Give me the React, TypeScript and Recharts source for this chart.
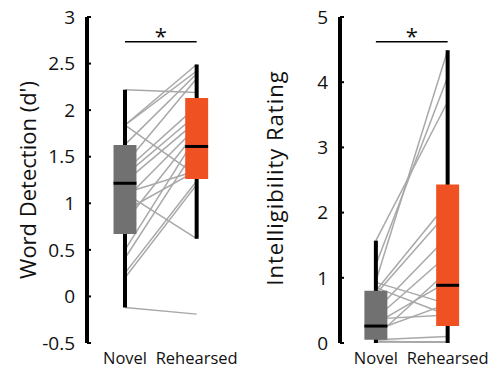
import React from 'react';
import {
  ComposedChart,
  Line,
  XAxis,
  YAxis,
  ReferenceArea,
  ReferenceLine
} from 'recharts';

const categories = ['Novel', 'Rehearsed'];

// box stats: [min, q1, median, q3, max]
const detectionNovelBox = [-0.12, 0.67, 1.215, 1.625, 2.22];
const detectionRehearsedBox = [0.62, 1.26, 1.61, 2.13, 2.49];
const ratingNovelBox = [0, 0.05, 0.26, 0.8, 1.57];
const ratingRehearsedBox = [0, 0.26, 0.885, 2.43, 4.49];

// paired subjects
const detectionNovel = [2.22, 1.84, 1.84, 1.84, 1.63, 1.42, 1.35, 1.3, 1.23, 1.11, 1.11, 1.04, 0.92, 0.8, 0.5, 0.41, 0.25, 0.2, -0.12];
const detectionRehearsed = [2.19, 2.49, 2.42, 1.3, 2.39, 2.34, 2.04, 1.95, 1.88, 1.35, 0.62, 1.82, 1.35, 1.77, 1.72, 1.6, 1.24, 1.2, -0.19];
const ratingNovel = [1.57, 1.2, 0.95, 0.93, 0.85, 0.8, 0.75, 0.5, 0.38, 0.3, 0.37, 0.2, 0.1, 0.05, 0.02, 0, 0.03];
const ratingRehearsed = [3.7, 4.08, 4.49, 0.6, 0.43, 2.15, 2.0, 1.63, 1.35, 0.94, 0.43, 0.6, 1.1, 0.1, 0.02, 0, 0];

const detectionTicks = [-0.5, 0, 0.5, 1, 1.5, 2, 2.5, 3];
const ratingTicks = [0, 1, 2, 3, 4, 5];

const detectionSig = 2.735;
const ratingSig = 4.62;

const FONT = '"Open Sans", sans-serif';
const GRAY = '#717171';
const ORANGE = '#F05123';
const HALF = 0.16;

interface PanelProps {
  title: string;
  novel: number[];
  rehearsed: number[];
  novelBox: number[];
  rehearsedBox: number[];
  ticks: number[];
  sig: number;
  xDomain: [number, number];
  width: number;
  marginLeft: number;
  marginRight: number;
  labelX: number;
  labelY: number;
  labelSpacing: number;
}

function Panel({ title, novel, rehearsed, novelBox, rehearsedBox, ticks, sig, xDomain, width, marginLeft, marginRight, labelX, labelY, labelSpacing }: PanelProps) {
  const boxes = [
    { x: 1, s: novelBox, fill: GRAY },
    { x: 2, s: rehearsedBox, fill: ORANGE }
  ];
  return (
    <ComposedChart
      width={width}
      height={369}
      margin={{ top: 17, right: marginRight, bottom: 0, left: marginLeft }}
      style={{ fontFamily: FONT }}
    >
      <XAxis
        type="number"
        dataKey="x"
        domain={xDomain}
        ticks={[1, 2]}
        tickFormatter={(v: number) => categories[v - 1]}
        axisLine={false}
        tickLine={false}
        height={26}
        tick={{ fill: '#111', fontSize: 16.5, dy: 1 }}
        allowDataOverflow
      />
      <YAxis
        type="number"
        domain={[ticks[0], ticks[ticks.length - 1]]}
        ticks={ticks}
        width={60}
        axisLine={{ stroke: '#000', strokeWidth: 4 }}
        tickLine={{ stroke: '#000', strokeWidth: 2 }}
        tickSize={-4}
        tickMargin={16}
        tick={{ fill: '#111', fontSize: 19 }}
        allowDataOverflow
        label={{
          content: () => (
            <text
              transform={`translate(${labelX},${labelY}) rotate(-90)`}
              textAnchor="middle"
              dominantBaseline="central"
              fontSize={22}
              letterSpacing={labelSpacing}
              fill="#111"
              fontFamily={FONT}
            >
              {title}
            </text>
          )
        }}
      />
      {novel.map((v, i) => (
        <Line
          key={`pair-${i}`}
          data={[{ x: 1, y: v }, { x: 2, y: rehearsed[i] }]}
          dataKey="y"
          stroke="#a8a8a8"
          strokeWidth={1.5}
          dot={false}
          activeDot={false}
          isAnimationActive={false}
          zIndex={100}
        />
      ))}
      {boxes.map((b) => (
        <ReferenceLine
          key={`wh-${b.x}`}
          segment={[{ x: b.x, y: b.s[0] }, { x: b.x, y: b.s[4] }]}
          stroke="#000"
          strokeWidth={4}
          zIndex={200}
        />
      ))}
      {boxes.map((b) => (
        <ReferenceArea
          key={`box-${b.x}`}
          x1={b.x - HALF}
          x2={b.x + HALF}
          y1={b.s[1]}
          y2={b.s[3]}
          fill={b.fill}
          fillOpacity={1}
          stroke="none"
          zIndex={300}
        />
      ))}
      {boxes.map((b) => (
        <ReferenceLine
          key={`med-${b.x}`}
          segment={[{ x: b.x - HALF, y: b.s[2] }, { x: b.x + HALF, y: b.s[2] }]}
          stroke="#000"
          strokeWidth={3}
          zIndex={400}
        />
      ))}
      <ReferenceLine
        segment={[{ x: 1, y: sig }, { x: 2, y: sig }]}
        stroke="#000"
        strokeWidth={1.5}
        zIndex={400}
        label={{ value: '*', position: 'top', fontSize: 22, fill: '#111', offset: -2 }}
      />
    </ComposedChart>
  );
}

export default function App() {
  return (
    <div style={{ position: 'absolute', left: 0, top: 0, width: 492, height: 369, background: '#fff', display: 'flex' }}>
      <Panel
        title="Word Detection (d')"
        novel={detectionNovel}
        rehearsed={detectionRehearsed}
        novelBox={detectionNovelBox}
        rehearsedBox={detectionRehearsedBox}
        ticks={detectionTicks}
        sig={detectionSig}
        xDomain={[0.47, 2.2]}
        width={250}
        marginLeft={27}
        marginRight={39}
        labelX={27}
        labelY={180}
        labelSpacing={0}
      />
      <Panel
        title="Intelligibility Rating"
        novel={ratingNovel}
        rehearsed={ratingRehearsed}
        novelBox={ratingNovelBox}
        rehearsedBox={ratingRehearsedBox}
        ticks={ratingTicks}
        sig={ratingSig}
        xDomain={[0.5, 2.2]}
        width={242}
        marginLeft={30}
        marginRight={30}
        labelX={24}
        labelY={178}
        labelSpacing={1}
      />
    </div>
  );
}
